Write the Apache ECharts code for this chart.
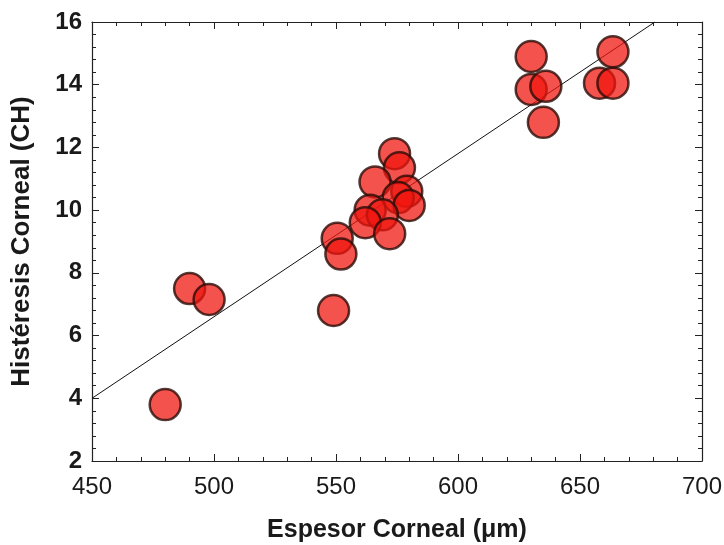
<!DOCTYPE html>
<html>
<head>
<meta charset="utf-8">
<script src="https://cdn.jsdelivr.net/npm/echarts@6/dist/echarts.min.js"></script>
<style>
  html, body { margin: 0; padding: 0; background: #fff; }
  #chart { width: 724px; height: 545px; }
</style>
</head>
<body>
<div id="chart"></div>
<script>
  // espesor corneal (um) y histeresis corneal (CH)
  var espesor = [480, 490, 498, 549, 550.5, 552, 574, 576, 566, 579, 575.5, 580, 564, 569, 562, 572, 630, 630, 636, 635, 658, 663.5, 663.5]
  var histeresis = [3.8, 7.5, 7.15, 6.8, 9.1, 8.6, 11.8, 11.35, 10.9, 10.6, 10.4, 10.15, 10.0, 9.85, 9.6, 9.25, 14.9, 13.85, 13.95, 12.8, 14.05, 14.05, 15.05]
  // recta de regresion (extremos)
  var rectaX = [450, 680.7]
  var rectaY = [4.0, 16.0]
  var xTicks = [450, 500, 550, 600, 650, 700]
  var yTicks = [2, 4, 6, 8, 10, 12, 14, 16]

  var puntos = espesor.map(function (x, i) { return [x, histeresis[i]] })
  var recta = rectaX.map(function (x, i) { return [x, rectaY[i]] })

  var font = 'Liberation Sans, Arial, sans-serif'
  var tickStyle = { inside: true, length: 7, lineStyle: { color: '#222', width: 1 } }
  var minorStyle = { show: true, splitNumber: 5, length: 4, lineStyle: { color: '#222', width: 1 } }
  var lineStyle = { show: true, onZero: false, lineStyle: { color: '#222', width: 1.2 } }

  var chart = echarts.init(document.getElementById('chart'))
  chart.setOption({
    animation: false,
    grid: { left: 92, right: 22, top: 22, bottom: 84, outerBoundsMode: 'none', containLabel: false },
    xAxis: [
      {
        type: 'value',
        min: xTicks[0],
        max: xTicks[xTicks.length - 1],
        interval: 50,
        position: 'bottom',
        name: 'Espesor Corneal (μm)',
        nameLocation: 'middle',
        nameGap: 57,
        nameTextStyle: { fontFamily: font, fontSize: 25, fontWeight: 'bold', color: '#1a1a1a' },
        axisLine: lineStyle,
        axisTick: tickStyle,
        minorTick: minorStyle,
        splitLine: { show: false },
        axisLabel: { fontFamily: font, fontSize: 24, color: '#1a1a1a', margin: 14 }
      },
      {
        type: 'value',
        min: xTicks[0],
        max: xTicks[xTicks.length - 1],
        interval: 50,
        position: 'top',
        axisLine: lineStyle,
        axisTick: tickStyle,
        minorTick: minorStyle,
        splitLine: { show: false },
        axisLabel: { show: false }
      }
    ],
    yAxis: [
      {
        type: 'value',
        min: yTicks[0],
        max: yTicks[yTicks.length - 1],
        interval: 2,
        position: 'left',
        name: 'Histéresis Corneal (CH)',
        nameLocation: 'middle',
        nameGap: 57,
        nameTextStyle: { fontFamily: font, fontSize: 26, fontWeight: 'bold', color: '#1a1a1a' },
        axisLine: lineStyle,
        axisTick: tickStyle,
        minorTick: minorStyle,
        splitLine: { show: false },
        axisLabel: { fontFamily: font, fontSize: 24, fontWeight: 'bold', color: '#1a1a1a', margin: 10 }
      },
      {
        type: 'value',
        min: yTicks[0],
        max: yTicks[yTicks.length - 1],
        interval: 2,
        position: 'right',
        axisLine: lineStyle,
        axisTick: tickStyle,
        minorTick: minorStyle,
        splitLine: { show: false },
        axisLabel: { show: false }
      }
    ],
    series: [
      {
        type: 'line',
        data: recta,
        symbol: 'none',
        clip: true,
        z: 1,
        lineStyle: { color: '#111', width: 1 }
      },
      {
        type: 'scatter',
        data: puntos,
        symbol: 'circle',
        symbolSize: 31,
        z: 2,
        itemStyle: {
          color: 'rgba(240, 20, 14, 0.92)',
          borderColor: '#2a0c08',
          borderWidth: 2.5
        }
      }
    ]
  })
</script>
</body>
</html>
